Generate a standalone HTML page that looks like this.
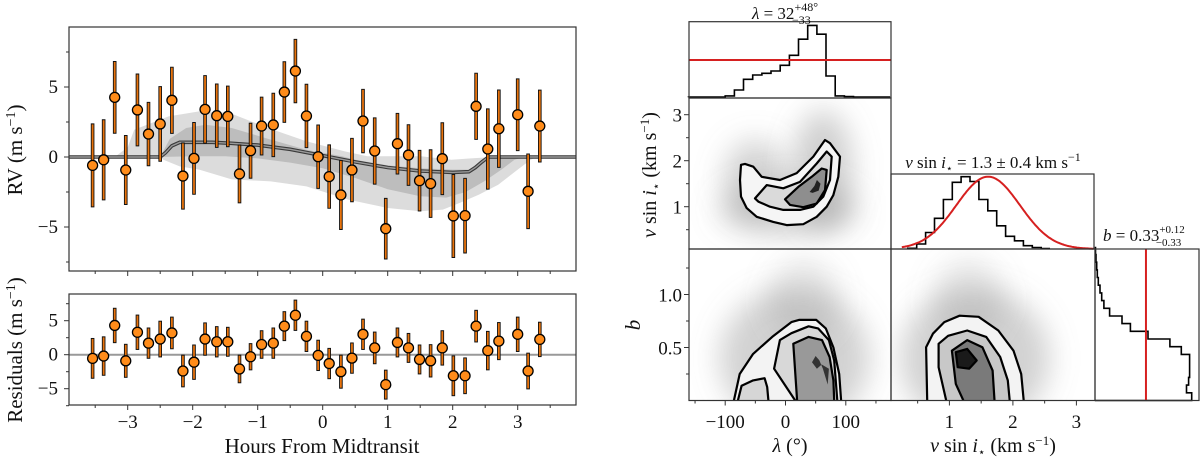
<!DOCTYPE html>
<html><head><meta charset="utf-8"><style>
html,body{margin:0;padding:0;background:#fff;}
svg{display:block;font-family:"Liberation Serif","DejaVu Serif",serif;}
</style></head><body>
<svg id="fig" width="1200" height="461" viewBox="0 0 1200 461" xmlns="http://www.w3.org/2000/svg">
<defs>
<clipPath id="clipTop"><rect x="69" y="27" width="507" height="244"/></clipPath>
<clipPath id="clipRes"><rect x="69" y="294" width="507" height="111"/></clipPath>
<clipPath id="clipLV"><rect x="689" y="98" width="202" height="151"/></clipPath>
<clipPath id="clipLB"><rect x="689" y="249" width="202" height="151"/></clipPath>
<clipPath id="clipVB"><rect x="891" y="249" width="203" height="151"/></clipPath>
<filter id="blur" x="-60%" y="-60%" width="220%" height="220%"><feGaussianBlur stdDeviation="14"/></filter>
</defs>
</svg>
<script>
// ---------- RV data ----------
const hours = [-3.54,-3.37,-3.2,-3.03,-2.85,-2.68,-2.5,-2.32,-2.15,-1.98,-1.81,-1.63,-1.46,-1.28,-1.11,-0.94,-0.76,-0.59,-0.42,-0.25,-0.07,0.1,0.28,0.45,0.62,0.8,0.97,1.15,1.32,1.49,1.66,1.84,2.01,2.19,2.36,2.54,2.71,3.0,3.16,3.34];
const rv = [-0.6,-0.2,4.26,-0.93,3.36,1.64,2.36,4.05,-1.36,-0.1,3.4,2.95,2.9,-1.21,0.45,2.21,2.29,4.64,6.14,2.93,0.02,-1.4,-2.71,-0.93,2.57,0.43,-5.12,0.95,0.14,-1.69,-1.9,-0.12,-4.21,-4.19,3.62,0.57,2.02,3.02,-2.45,2.21];
const rvErr = [3.0,2.9,2.6,2.5,2.6,2.3,2.7,2.4,2.4,2.6,2.45,2.3,2.2,2.1,2.0,2.1,2.3,2.2,2.3,2.3,2.3,2.3,2.5,2.3,2.3,2.4,2.2,2.2,2.2,2.2,2.45,2.6,3.0,2.7,2.4,2.9,2.8,2.6,2.7,2.6];
const resid = [-0.54,-0.2,4.3,-0.9,3.3,1.7,2.3,3.2,-2.4,-1.1,2.3,1.9,1.9,-2.1,-0.3,1.5,1.7,4.2,5.8,2.7,-0.1,-1.3,-2.5,-0.5,3.0,1.0,-4.4,1.8,1.0,-0.7,-0.9,1.0,-3.1,-3.1,4.2,0.6,2.0,3.0,-2.4,2.25];
const modelH = [-3.9,-2.5,-2.42,-2.32,-2.2,-1.7,-1.4,-1.0,-0.5,0,0.5,1.0,1.5,2.0,2.25,2.35,2.45,2.55,3.9];
const modelV = [0,0,0.3,0.8,1.05,1.05,0.98,0.85,0.55,0.1,-0.35,-0.75,-1.0,-1.1,-1.05,-0.75,-0.35,0,0];
const band2H = [-3.9,-3.2,-3.0,-2.9,-2.37,-1.9,-1.43,-0.84,-0.25,0.34,0.69,1.51,1.98,2.28,2.63,3.9];
const band2Up = [0,0,0.7,1.95,2.9,3.26,3.14,2.07,1.12,0.4,0.05,0.05,-0.2,-0.1,0,0];
const band2LoH = [-3.9,-2.5,-2.45,-2.2,-1.9,-1.4,-0.8,-0.25,0.4,1.0,1.5,1.85,2.1,2.4,2.7,3.0,3.2,3.3,3.9];
const band2Lo = [0,0,-0.2,-0.67,-0.9,-1.6,-1.74,-2.1,-3.05,-3.64,-3.88,-3.76,-3.29,-2.7,-1.98,-0.9,-0.2,0,0];
const band1UpH = [-3.9,-2.5,-2.35,-2.1,-1.8,-1.4,-0.8,-0.25,0.3,0.5,1.0,1.5,2.0,2.25,2.4,2.55,3.9];
const band1Up = [0,0,1.3,2.07,2.3,2.07,1.24,0.52,0.05,-0.2,-0.6,-0.8,-0.9,-0.9,-0.4,0,0];
const band1LoH = [-3.9,-2.5,-2.0,-1.5,-1.0,-0.5,0,0.5,1.0,1.5,1.9,2.2,2.5,2.75,2.95,3.1,3.9];
const band1Lo = [0,0,0.05,0.05,-0.1,-0.4,-0.8,-1.5,-2.3,-2.8,-2.9,-2.5,-1.7,-0.9,-0.2,0,0];
const hourTicks = [-3,-2,-1,0,1,2,3];
const hourTickLabels = ['\u22123','\u22122','\u22121','0','1','2','3'];
const rvTicks = [-5,0,5];
const rvTickLabels = ['\u22125','0','5'];

// ---------- corner data ----------
const lamBinStart = [-160.8];
const lamBinWidth = [15.2];
const lamHist = [0.004,0.004,0.004,0.004,0.018,0.097,0.238,0.295,0.317,0.348,0.423,0.555,0.767,0.95,0.833,0.282,0.018,0.009,0.004,0.004,0.002,0.002];
const lamPrior = [0.493];
const vsBinStart = [0.345];
const vsBinWidth = [0.14];
const vsHist = [0.01,0.067,0.22,0.41,0.66,0.89,0.964,0.9,0.66,0.51,0.31,0.17,0.11,0.044,0.02,0.005];
const vsPriorMean = [1.61];
const vsPriorSigma = [0.5];
const vsPriorPeak = [0.964];
const bBinWidth = [0.0725];
const bHist = [0.93,0.88,0.9,0.91,0.91,0.91,0.83,0.72,0.51,0.34,0.26,0.14,0.086,0.064,0.048,0.032,0.022,0.016,0.01,0.005];
const bPrior = [0.49];
const lamTicks = [-100,0,100];
const lamTickLabels = ['\u2212100','0','100'];
const vsTicks = [1,2,3];
const bTicks = [0.5,1.0];
const bTickLabels = ['0.5','1.0'];
const lvOuter = [[-73.8,1.91],[-67.2,1.93],[-53.4,1.87],[-39.5,1.65],[-9.1,1.58],[18.6,1.73],[46.1,2.09],[65.5,2.45],[73.8,2.38],[90.4,2.09],[87.6,1.65],[79.3,1.25],[68.3,1.0],[51.7,0.78],[29.5,0.62],[2.0,0.6],[-20.2,0.67],[-47.8,0.78],[-64.3,0.97],[-73.8,1.22],[-75.5,1.58]];
const lvMid = [[-50.6,1.18],[-31.2,1.47],[-3.6,1.4],[24.0,1.54],[51.7,1.94],[68.3,2.2],[76.6,2.09],[73.8,1.58],[62.7,1.22],[46.1,1.0],[24.0,0.93],[-3.6,0.93],[-25.7,1.0],[-45.1,1.11]];
const lvInner = [[-0.8,1.16],[21.2,1.43],[43.4,1.65],[60.0,1.83],[68.3,1.8],[65.5,1.36],[51.7,1.07],[29.5,0.99],[7.5,1.04]];
const lvCore = [[45,1.3],[55,1.35],[58,1.5],[52,1.58],[48,1.45],[40,1.32]];
const lbOuter = [[-85.6,0],[-76,0.25],[-53.7,0.44],[-22,0.6],[9.8,0.74],[22.4,0.76],[51,0.76],[66.8,0.68],[79.5,0.5],[89,0.25],[92.2,0]];
const lbMid = [[16.1,0],[-18.9,0.3],[-9.3,0.57],[9.8,0.635],[38.3,0.7],[54.1,0.68],[72,0.57],[80.8,0.377],[85.9,0]];
const lbIsland = [[-79,0],[-72.8,0.14],[-53.7,0.19],[-34.6,0.21],[-30.3,0.126],[-28.4,0]];
const lbInner = [[19.2,0],[12.9,0.535],[38.3,0.6],[60.5,0.57],[73.1,0.41],[79.5,0.19],[80.8,0]];
const lbCore = [[44,0.36],[50,0.42],[56,0.38],[62,0.3],[70,0.15],[72,0.3],[60,0.34],[52,0.3]];
const vbOuter = [[0.65,0],[0.633,0.503],[0.74,0.63],[0.92,0.74],[1.16,0.8],[1.46,0.79],[1.77,0.66],[2.01,0.47],[2.13,0.25],[2.17,0]];
const vbMid = [[0.95,0],[0.83,0.314],[0.83,0.535],[0.98,0.61],[1.28,0.66],[1.58,0.6],[1.8,0.41],[1.92,0.19],[1.95,0]];
const vbInner = [[1.22,0],[1.1,0.157],[1.04,0.47],[1.28,0.57],[1.52,0.503],[1.68,0.283],[1.71,0]];
const vbCore = [[1.1,0.456],[1.28,0.487],[1.43,0.377],[1.31,0.3],[1.13,0.314]];

const NS='http://www.w3.org/2000/svg';
const svg=document.getElementById('fig');
function mk(tag, attrs, parent){const e=document.createElementNS(NS,tag);for(const k in attrs)e.setAttribute(k,attrs[k]);(parent||svg).appendChild(e);return e;}
function grp(name, clip){const g=mk('g',clip?{'clip-path':'url(#'+clip+')'}:{});return g;}

const hx=h=>322.7+65*h;
const rvY=v=>157-14*v;
const resY=v=>354.7-6.8*v;
const lamX=l=>785.5+0.603*l;
const vsX=v=>949.4+63.5*(v-1);
const vsY=v=>206.7-46*(v-1);
const bY=b=>400.5-106*b;

// ---------- RV panel ----------
const gTop=grp('rv-plot-area','clipTop');
function bandPath(hU,vU,hL,vL){let d='';hU.forEach((h,i)=>{d+=(i?'L':'M')+hx(h).toFixed(1)+','+rvY(vU[i]).toFixed(1);});for(let i=hL.length-1;i>=0;i--)d+='L'+hx(hL[i]).toFixed(1)+','+rvY(vL[i]).toFixed(1);return d+'Z';}
let el=mk('path',{d:bandPath(band2H,band2Up,band2LoH,band2Lo),fill:'#dcdcdc'},gTop);


el=mk('path',{d:bandPath(band1UpH,band1Up,band1LoH,band1Lo),fill:'#bdbdbd'},gTop);


const md=modelH.map((h,i)=>(i?'L':'M')+hx(h).toFixed(1)+','+rvY(modelV[i]).toFixed(1)).join('');
el=mk('path',{d:md,fill:'none',stroke:'#3a3a3a','stroke-width':3.6},gTop);


el=mk('path',{d:md,fill:'none',stroke:'#9a9a9a','stroke-width':1.4},gTop);



function drawPoints(g, vals, yf, prefix){
  hours.forEach((h,i)=>{
    const x=hx(h), y1=yf(vals[i]+rvErr[i]), y2=yf(vals[i]-rvErr[i]);
    let e=mk('line',{x1:x,x2:x,y1:y1,y2:y2,stroke:'#111','stroke-width':3.6},g);
    
    
    e=mk('line',{x1:x,x2:x,y1:y1+1,y2:y2-1,stroke:'#e8730c','stroke-width':1.8},g);
    
    
  });
  hours.forEach((h,i)=>{
    const e=mk('circle',{cx:hx(h),cy:yf(vals[i]),r:5,fill:'#ff8c1a',stroke:'#000','stroke-width':1.3},g);
    
    
  });
}
drawPoints(gTop, rv, rvY, 'rv');

const gRes=grp('residuals-plot-area','clipRes');
el=mk('line',{x1:69,x2:576,y1:resY(0),y2:resY(0),stroke:'#999','stroke-width':2},gRes);


drawPoints(gRes, resid, resY, 'residual');

function frame(x,y,w,h,name){const e=mk('rect',{x:x,y:y,width:w,height:h,fill:'none',stroke:'#333','stroke-width':1.2});return e;}
frame(69,27,507,244,'rv-frame');
frame(69,294,507,111,'residuals-frame');

function txt(x,y,s,size,anchor,name,rot){const a={x:x,y:y,'font-size':size,'text-anchor':anchor||'middle',fill:'#111'};if(rot)a.transform='rotate(-90 '+x+' '+y+')';const e=mk('text',a);e.textContent=s;return e;}

const gxt=grp('hours-axis');
for(let h=-3.5;h<=3.51;h+=0.5){
  const maj=Math.abs(h-Math.round(h))<0.01;
  [271,405].forEach(yb=>{
    const e=mk('line',{x1:hx(h),x2:hx(h),y1:yb,y2:yb+(maj?5:3),stroke:'#333','stroke-width':1},gxt);
    
    
  });
}
hourTicks.forEach((h,i)=>{txt(hx(h),428,hourTickLabels[i],19,'middle','x-tick-label');});
txt(322,453,'Hours From Midtransit',21,'middle','x-axis-title');
const gyt=grp('y-axes');
for(let v=-7.5;v<=7.51;v+=2.5){
  const maj=Math.abs(v%5)<0.01;
  let e=mk('line',{x1:69,x2:69-(maj?5:3),y1:rvY(v),y2:rvY(v),stroke:'#333','stroke-width':1},gyt);
  
  
  e=mk('line',{x1:69,x2:69-(maj?5:3),y1:resY(v),y2:resY(v),stroke:'#333','stroke-width':1},gyt);
  
  
}
rvTicks.forEach((v,i)=>{txt(58,rvY(v)+6,rvTickLabels[i],19,'end','rv-y-tick-label');txt(58,resY(v)+6,rvTickLabels[i],19,'end','residual-y-tick-label');});
const rvl=txt(22,150,'',21,'middle','rv-y-axis-title',true);
rvl.innerHTML='RV (m s<tspan font-size="14" dy="-7">\u22121</tspan><tspan dy="7">)</tspan>';
const rsl=txt(22,350,'',21,'middle','residuals-y-axis-title',true);
rsl.innerHTML='Residuals (m s<tspan font-size="14" dy="-7">\u22121</tspan><tspan dy="7">)</tspan>';

// ---------- corner plot ----------
function poly(pts,xf,yf,attrs,g,name){const d=pts.map((p,i)=>(i?'L':'M')+xf(p[0]).toFixed(1)+','+yf(p[1]).toFixed(1)).join('')+'Z';const e=mk('path',Object.assign({d:d},attrs),g);return e;}
function cloud(g,cx,cy,rx,ry,op,name){const e=mk('ellipse',{cx:cx,cy:cy,rx:rx,ry:ry,fill:'#888','fill-opacity':op,filter:'url(#blur)'},g);}
const cst={fill:'none',stroke:'#000','stroke-width':2.2,'stroke-linejoin':'round'};

const gLV=grp('lambda-vsini-density','clipLV');
cloud(gLV,lamX(-50),vsY(1.6),32,40,0.35,'scatter-cloud');
cloud(gLV,lamX(62),vsY(1.8),30,60,0.4,'scatter-cloud');
cloud(gLV,lamX(5),vsY(0.95),70,28,0.35,'scatter-cloud');
poly(lvOuter,lamX,vsY,{fill:'#f5f5f5'},gLV,'density-level-1');
poly(lvMid,lamX,vsY,{fill:'#dadada'},gLV,'density-level-2');
poly(lvInner,lamX,vsY,{fill:'#8e8e8e'},gLV,'density-level-3');
poly(lvCore,lamX,vsY,{fill:'#222'},gLV,'density-peak');
poly(lvOuter,lamX,vsY,cst,gLV,'contour-outer');
poly(lvMid,lamX,vsY,cst,gLV,'contour-middle');
poly(lvInner,lamX,vsY,cst,gLV,'contour-inner');

const gLB=grp('lambda-b-density','clipLB');
cloud(gLB,lamX(15),bY(0.4),75,70,0.38,'scatter-cloud');
cloud(gLB,lamX(30),bY(0.95),35,40,0.22,'scatter-cloud');
poly(lbOuter,lamX,bY,{fill:'#f3f3f3'},gLB,'density-level-1');
poly(lbIsland,lamX,bY,{fill:'#d6d6d6'},gLB,'density-level-2');
poly(lbMid,lamX,bY,{fill:'#d8d8d8'},gLB,'density-level-2');
poly(lbInner,lamX,bY,{fill:'#999'},gLB,'density-level-3');
poly(lbCore,lamX,bY,{fill:'#333'},gLB,'density-peak');
[lbOuter,lbMid,lbIsland,lbInner].forEach(c=>{const e=mk('path',{d:c.map((p,i)=>(i?'L':'M')+lamX(p[0]).toFixed(1)+','+bY(p[1]).toFixed(1)).join(''),fill:'none',stroke:'#000','stroke-width':2.2,'stroke-linejoin':'round'},gLB);});

const gVB=grp('vsini-b-density','clipVB');
cloud(gVB,vsX(1.4),bY(0.4),75,70,0.38,'scatter-cloud');
cloud(gVB,vsX(1.3),bY(0.95),35,40,0.22,'scatter-cloud');
poly(vbOuter,vsX,bY,{fill:'#f3f3f3'},gVB,'density-level-1');
poly(vbMid,vsX,bY,{fill:'#c8c8c8'},gVB,'density-level-2');
poly(vbInner,vsX,bY,{fill:'#7a7a7a'},gVB,'density-level-3');
poly(vbCore,vsX,bY,{fill:'#1a1a1a'},gVB,'density-peak');
[vbOuter,vbMid,vbInner].forEach(c=>{const e=mk('path',{d:c.map((p,i)=>(i?'L':'M')+vsX(p[0]).toFixed(1)+','+bY(p[1]).toFixed(1)).join(''),fill:'none',stroke:'#000','stroke-width':2.2,'stroke-linejoin':'round'},gVB);});
poly(vbCore,vsX,bY,cst,gVB,'contour-core');

const gLH=grp('lambda-histogram');
let d='M'+lamX(lamBinStart[0])+',97.3';
lamHist.forEach((f,i)=>{const x0=lamX(lamBinStart[0]+i*lamBinWidth[0]),x1=lamX(lamBinStart[0]+(i+1)*lamBinWidth[0]),y=97.3-f*75.7;d+='L'+x0.toFixed(1)+','+y.toFixed(1)+'L'+x1.toFixed(1)+','+y.toFixed(1);});
el=mk('path',{d:d,fill:'none',stroke:'#000','stroke-width':1.6},gLH);


el=mk('line',{x1:689,x2:891,y1:97.3-lamPrior[0]*75.7,y2:97.3-lamPrior[0]*75.7,stroke:'#d62020','stroke-width':2},gLH);


frame(689,21.7,202,76.3,'lambda-hist-frame');

const gVH=grp('vsini-histogram');
d='M'+vsX(vsBinStart[0])+',249';
vsHist.forEach((f,i)=>{const x0=vsX(vsBinStart[0]+i*vsBinWidth[0]),x1=vsX(vsBinStart[0]+(i+1)*vsBinWidth[0]),y=249-f*75;d+='L'+x0.toFixed(1)+','+y.toFixed(1)+'L'+x1.toFixed(1)+','+y.toFixed(1);});
el=mk('path',{d:d,fill:'none',stroke:'#000','stroke-width':1.6},gVH);


let gp='';
for(let v=0.25;v<=3.29;v+=0.02){const f=vsPriorPeak[0]*Math.exp(-0.5*Math.pow((v-vsPriorMean[0])/vsPriorSigma[0],2));gp+=(gp?'L':'M')+vsX(v).toFixed(1)+','+(249-f*75).toFixed(1);}
el=mk('path',{d:gp,fill:'none',stroke:'#d62020','stroke-width':2},gVH);


frame(891,174,203,75,'vsini-hist-frame');

const gBH=grp('b-histogram');
d='M1095,'+bY(0);
bHist.forEach((f,i)=>{const y0=bY(i*bBinWidth[0]),y1=bY((i+1)*bBinWidth[0]),x=1095+f*104;d+='L'+x.toFixed(1)+','+y0.toFixed(1)+'L'+x.toFixed(1)+','+y1.toFixed(1);});
el=mk('path',{d:d,fill:'none',stroke:'#000','stroke-width':1.6},gBH);


el=mk('line',{x1:1095+bPrior[0]*104,x2:1095+bPrior[0]*104,y1:249,y2:400.5,stroke:'#d62020','stroke-width':2},gBH);


frame(1095,249,104,151.5,'b-hist-frame');

frame(689,98,202,151,'lambda-vsini-frame');
frame(689,249,202,151.5,'lambda-b-frame');
frame(891,249,204,151.5,'vsini-b-frame');

const gct=grp('corner-ticks');
function tk(x1,y1,x2,y2){const e=mk('line',{x1:x1,y1:y1,x2:x2,y2:y2,stroke:'#333','stroke-width':1},gct);}
for(let l=-150;l<=150;l+=50)tk(lamX(l),400.5,lamX(l),400.5+(l%100===0?5:3));
for(let v=0.5;v<=3.01;v+=0.5)tk(vsX(v),400.5,vsX(v),400.5+(Math.abs(v-Math.round(v))<0.01?5:3));
for(let v=0.5;v<=3.01;v+=0.5)tk(689,vsY(v),689-(Math.abs(v-Math.round(v))<0.01?5:3),vsY(v));
for(let b=0.25;b<=1.26;b+=0.25)tk(689,bY(b),689-(Math.abs(b*2-Math.round(b*2))<0.01?5:3),bY(b));
lamTicks.forEach((l,i)=>txt(lamX(l),428,lamTickLabels[i],19,'middle','lambda-tick-label'));
vsTicks.forEach(v=>txt(vsX(v),428,String(v),19,'middle','vsini-x-tick-label'));
vsTicks.forEach(v=>txt(682,vsY(v)+7,String(v),19,'end','vsini-y-tick-label'));
bTicks.forEach((b,i)=>txt(682,bY(b)+7,bTickLabels[i],19,'end','b-tick-label'));

let t=txt(790,452,'',20,'middle','lambda-axis-title');
t.innerHTML='<tspan font-style="italic">λ</tspan> (°)';
t=txt(993,452,'',20,'middle','vsini-x-axis-title');
t.innerHTML='<tspan font-style="italic">v</tspan> sin <tspan font-style="italic">i</tspan><tspan font-size="12" dy="4">⋆</tspan><tspan dy="-4"> (km s</tspan><tspan font-size="13" dy="-7">−1</tspan><tspan dy="7">)</tspan>';
t=txt(656,175,'',20,'middle','vsini-y-axis-title',true);
t.innerHTML='<tspan font-style="italic">v</tspan> sin <tspan font-style="italic">i</tspan><tspan font-size="12" dy="4">⋆</tspan><tspan dy="-4"> (km s</tspan><tspan font-size="13" dy="-7">−1</tspan><tspan dy="7">)</tspan>';
t=txt(640,325,'b',21,'middle','b-axis-title',true);
t.setAttribute('font-style','italic');
t=txt(785,19,'',17,'middle','lambda-title');
t.innerHTML='<tspan font-style="italic">λ</tspan> = 32<tspan font-size="12" dy="-8">+48°</tspan><tspan font-size="12" dx="-26" dy="13">−33</tspan>';
t=txt(993,168,'',17,'middle','vsini-title');
t.innerHTML='<tspan font-style="italic">v</tspan> sin <tspan font-style="italic">i</tspan><tspan font-size="11" dy="4">⋆</tspan><tspan dy="-4"> = 1.3 ± 0.4 km s</tspan><tspan font-size="12" dy="-7">−1</tspan>';
t=txt(1103,241,'',17,'start','b-title');
t.innerHTML='<tspan font-style="italic">b</tspan> = 0.33<tspan font-size="11" dy="-8">+0.12</tspan><tspan font-size="11" dx="-29" dy="13">−0.33</tspan>';
</script>
</body></html>
